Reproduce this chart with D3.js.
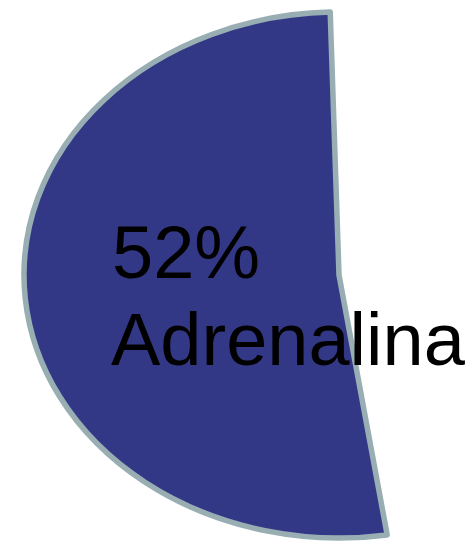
<!DOCTYPE html>
<html><head><meta charset="utf-8">
<script src="https://cdn.jsdelivr.net/npm/d3@7/dist/d3.min.js"></script>
<style>html,body{margin:0;padding:0;background:#fff;}</style>
</head><body>
<svg id="chart" width="473" height="546"></svg>
<script>
const categories = ["Adrenalina", "Otros"];
const values = [52, 48];
const labels = ["52%", "Adrenalina"];
const colors = ["#333886", "#ffffff"];

const svg = d3.select("#chart");
const cx = 339, cy = 275, ry = 263, rx = 315;
const pie = d3.pie().sort(null).value(d => d)
  .startAngle(171.2 * Math.PI / 180).endAngle((171.2 + 360) * Math.PI / 180);
const arcs = pie(values);
const arc = d3.arc().innerRadius(0).outerRadius(ry);

const g = svg.append("g").attr("transform", `translate(${cx},${cy}) scale(${rx/ry},1)`);
const paths = g.selectAll("path").data(arcs).join("path")
  .attr("d", arc)
  .attr("fill", (d, i) => colors[i])
  .attr("stroke", (d, i) => i === 0 ? "#98aeb3" : "none")
  .attr("stroke-width", 5.5)
  .attr("vector-effect", "non-scaling-stroke")
  .attr("stroke-linejoin", "round");
paths.filter((d, i) => i === 0).raise();

const t = svg.append("text")
  .attr("font-family", "'Liberation Sans', Arial, sans-serif")
  .attr("font-size", 74).attr("fill", "#000");
t.append("tspan").attr("x", 112).attr("y", 278).text(labels[0]);
t.append("tspan").attr("x", 111).attr("y", 365).text(labels[1]);
</script>
</body></html>
